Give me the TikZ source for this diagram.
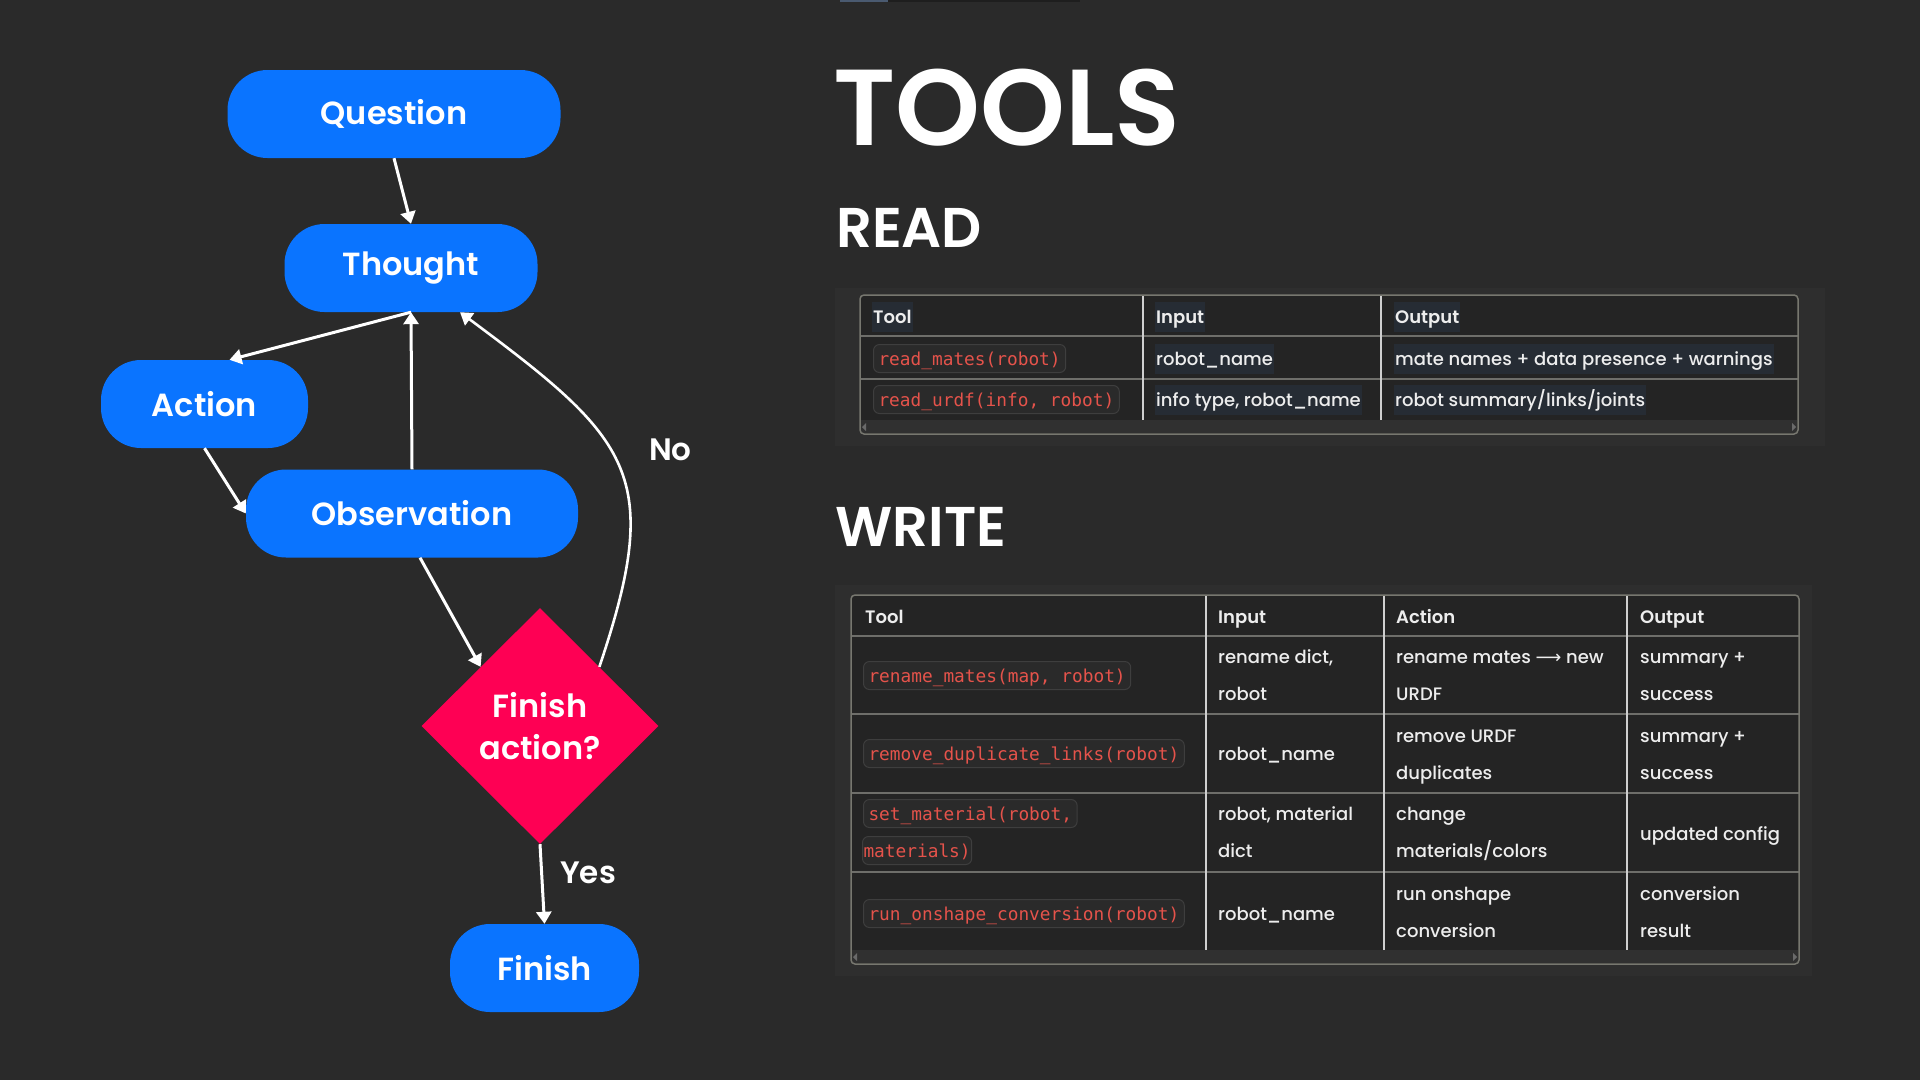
\documentclass[tikz,border=0pt]{standalone}
\usepackage{fontspec}
\setmainfont{Poppins}
\newfontfamily\popsb{Poppins SemiBold}
\newfontfamily\popmed{Poppins Medium}
\newfontfamily\monof{DejaVu Sans Mono}
\newfontfamily\dejavu{DejaVu Sans}
\usetikzlibrary{shapes.geometric,arrows.meta}
\definecolor{bg}{HTML}{2A2A2A}
\definecolor{flowblue}{HTML}{0A74FF}
\definecolor{flowpink}{HTML}{FE0054}
\definecolor{panelbg}{HTML}{2E2E2E}
\definecolor{tablebg}{HTML}{242424}
\definecolor{tableline}{HTML}{77776F}
\definecolor{rowline}{HTML}{6E6E6A}
\definecolor{colline}{HTML}{CFCFCF}
\definecolor{scrollbg}{HTML}{303030}
\definecolor{scrollarrow}{HTML}{6A6A6A}
\definecolor{codered}{HTML}{E5534B}
\definecolor{pillbg}{HTML}{2A2A2A}
\definecolor{pillline}{HTML}{3E3E3E}
\definecolor{hl}{HTML}{262C34}
\definecolor{txt}{HTML}{EDEDED}
\definecolor{topblue}{HTML}{4A5A70}
\definecolor{topdark}{HTML}{1E1E1E}
\tikzset{
  flow/.style={fill=flowblue, rounded corners=40pt, text=white,
    font=\popsb\fontsize{32}{40}\selectfont, minimum height=88pt, inner sep=0pt},
  decision/.style={diamond, fill=flowpink, text=white, align=center,
    font=\popsb\fontsize{32}{42}\selectfont, minimum width=237pt, minimum height=236pt, inner sep=0pt},
  arr/.style={draw=white, line width=3pt, -{Triangle[length=12pt,width=15pt]}},
  lbl/.style={text=white, font=\popsb\fontsize{31}{36}\selectfont, anchor=base west, inner sep=0pt},
  title/.style={text=white, anchor=base west, inner sep=0pt},
  thead/.style={anchor=base west, inner sep=0pt, text=txt, font=\popsb\fontsize{18}{20}\selectfont},
  cellt/.style={anchor=base west, inner sep=0pt, text=txt, font=\popmed\fontsize{18}{20}\selectfont},
  hlbox/.style={fill=hl, inner xsep=1pt, inner ysep=4.5pt, text height=17pt, text depth=4pt},
  pill/.style={anchor=base west, font=\monof\fontsize{17.8}{20}\selectfont, text=codered,
    fill=pillbg, draw=pillline, line width=1pt, rounded corners=6pt,
    inner xsep=5pt, inner ysep=5.5pt, text height=15pt, text depth=2pt},
}
\begin{document}
\begin{tikzpicture}[x=1pt,y=-1pt]
\fill[bg] (0,0) rectangle (1920,1080);
\useasboundingbox (0,0) rectangle (1920,1080);
\fill[topblue] (840,0) rectangle (888,1.5);
\fill[topdark] (888,0) rectangle (1080,1.5);

% ---------------- flowchart ----------------
\node[flow, minimum width=333pt] (q) at (394,114) {Question};
\node[flow, minimum width=253pt] (t) at (411,268) {Thought};
\node[flow, minimum width=207pt] (a) at (204.5,404) {Action};
\node[flow, minimum width=332pt] (o) at (412,513.5) {Observation};
\node[decision] (d) at (540,726) {Finish\\action?};
\node[flow, minimum width=189pt] (f) at (544.5,968) {Finish};

\draw[arr] (q.south) -- (t.north);
\draw[arr] (t.south) -- ([xshift=25pt]a.north);
\draw[arr] (o.north) -- (t.south);
\draw[arr] (a.south) -- (o.west);
\draw[arr] ([xshift=8pt]o.south) -- (d.north west);
\draw[arr, line width=2.6pt] (d.north east) .. controls (664,475) and (632,440) .. ([xshift=49pt]t.south);
\draw[arr] (d.south) -- (f.north);

\node[lbl] (no) at (649,460) {No};
\node[lbl] (yes) at (560,883) {Yes};

% ---------------- titles ----------------
\node[title, font=\popsb\fontsize{108}{120}\selectfont] (tools) at (833,145) {TOOLS};
\node[title, font=\popsb\fontsize{56}{64}\selectfont] (read) at (836,247) {READ};
\node[title, font=\popsb\fontsize{56}{64}\selectfont] (write) at (835,546) {WRITE};

% ---------------- READ table ----------------
\fill[panelbg] (835,288) rectangle (1825,446);
\fill[tablebg, rounded corners=4pt] (860,295) rectangle (1798,434);
\fill[scrollbg] (861,420) rectangle (1797,433);
\draw[rowline, line width=2pt] (860,336) -- (1798,336);
\draw[rowline, line width=2pt] (860,379) -- (1798,379);
\draw[colline, line width=1.5pt] (1143,295) -- (1143,420);
\draw[colline, line width=1.5pt] (1381,295) -- (1381,420);
\draw[tableline, line width=1.5pt, rounded corners=4pt] (860,295) rectangle (1798,434);
\fill[scrollarrow] (866,423) -- (866,431) -- (862,427) -- cycle;
\fill[scrollarrow] (1792,423) -- (1792,431) -- (1796,427) -- cycle;

\node[thead, hlbox] (r-h1) at (872,323) {Tool};
\node[thead, hlbox] (r-h2) at (1155,323) {Input};
\node[thead, hlbox] (r-h3) at (1394,323) {Output};
\node[pill] (r-1a) at (873,365) {read\_mates(robot)};
\node[cellt, hlbox] (r-1b) at (1155,365) {robot\_name};
\node[cellt, hlbox] (r-1c) at (1394,365) {mate names + data presence + warnings};
\node[pill] (r-2a) at (873,406) {read\_urdf(info, robot)};
\node[cellt, hlbox] (r-2b) at (1155,406) {info type, robot\_name};
\node[cellt, hlbox] (r-2c) at (1394,406) {robot summary/links/joints};

% ---------------- WRITE table ----------------
\fill[panelbg] (835,585) rectangle (1812,976);
\fill[tablebg, rounded corners=4pt] (851,595) rectangle (1799,964);
\fill[scrollbg] (852,950) rectangle (1798,963);
\foreach \yy in {636,714,793,872} {\draw[rowline, line width=2pt] (851,\yy) -- (1799,\yy);}
\foreach \xx in {1206,1384,1627} {\draw[colline, line width=1.5pt] (\xx,595) -- (\xx,950);}
\draw[tableline, line width=1.5pt, rounded corners=4pt] (851,595) rectangle (1799,964);
\fill[scrollarrow] (857,953) -- (857,961) -- (853,957) -- cycle;
\fill[scrollarrow] (1793,953) -- (1793,961) -- (1797,957) -- cycle;

\node[thead] (w-h1) at (865,623) {Tool};
\node[thead] (w-h2) at (1218,623) {Input};
\node[thead] (w-h3) at (1396,623) {Action};
\node[thead] (w-h4) at (1640,623) {Output};

\node[pill] (w-1a) at (863,682) {rename\_mates(map, robot)};
\node[cellt] (w-1b1) at (1218,663) {rename dict,};
\node[cellt] (w-1b2) at (1218,700) {robot};
\node[cellt] (w-1c1) at (1396,663) {rename mates {\dejavu ⟶} new};
\node[cellt] (w-1c2) at (1396,700) {URDF};
\node[cellt] (w-1d1) at (1640,663) {summary +};
\node[cellt] (w-1d2) at (1640,700) {success};

\node[pill] (w-2a) at (863,760) {remove\_duplicate\_links(robot)};
\node[cellt] (w-2b) at (1218,760) {robot\_name};
\node[cellt] (w-2c1) at (1396,742) {remove URDF};
\node[cellt] (w-2c2) at (1396,779) {duplicates};
\node[cellt] (w-2d1) at (1640,742) {summary +};
\node[cellt] (w-2d2) at (1640,779) {success};

\node[pill] (w-3a1) at (863,820) {set\_material(robot,\ };
\node[pill, inner xsep=1pt] (w-3a2) at (862,857) {materials)};
\node[cellt] (w-3b1) at (1218,820) {robot, material};
\node[cellt] (w-3b2) at (1218,857) {dict};
\node[cellt] (w-3c1) at (1396,820) {change};
\node[cellt] (w-3c2) at (1396,857) {materials/colors};
\node[cellt] (w-3d) at (1640,840) {updated config};

\node[pill] (w-4a) at (863,920) {run\_onshape\_conversion(robot)};
\node[cellt] (w-4b) at (1218,920) {robot\_name};
\node[cellt] (w-4c1) at (1396,900) {run onshape};
\node[cellt] (w-4c2) at (1396,937) {conversion};
\node[cellt] (w-4d1) at (1640,900) {conversion};
\node[cellt] (w-4d2) at (1640,937) {result};
\end{tikzpicture}
\end{document}
